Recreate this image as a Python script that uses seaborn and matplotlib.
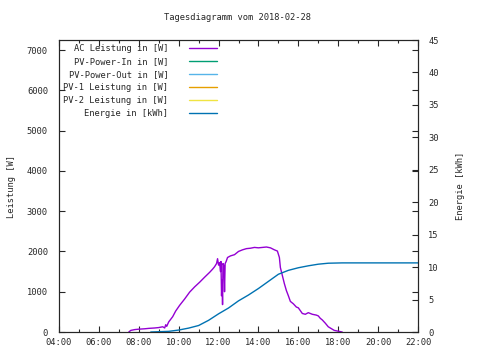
import matplotlib
matplotlib.use("Agg")
import matplotlib.pyplot as plt
import seaborn as sns
import pandas as pd
from matplotlib.ticker import MultipleLocator, FuncFormatter

# ---- data ----
ac_time = [7.5, 7.6, 7.8, 8.0, 8.3, 8.5, 8.8, 9.0, 9.2, 9.3, 9.35, 9.4, 9.5, 9.7,
           9.85, 10.05, 10.3, 10.55, 10.8, 11.05, 11.3, 11.55, 11.7, 11.8, 11.9,
           11.95, 12.0, 12.05, 12.1, 12.12, 12.15, 12.18, 12.2, 12.22, 12.27, 12.3,
           12.33, 12.38, 12.45, 12.6, 12.8, 13.0, 13.2, 13.4, 13.6, 13.8, 14.0,
           14.2, 14.4, 14.6, 14.8, 14.95, 15.05, 15.1, 15.2, 15.3, 15.4, 15.5,
           15.6, 15.75, 15.9, 16.0, 16.2, 16.35, 16.5, 16.7, 16.9, 17.0, 17.1,
           17.2, 17.35, 17.5, 17.6, 17.8, 17.9, 18.1, 18.2]
ac_power = [0, 40, 60, 70, 80, 90, 100, 110, 130, 100, 180, 140, 250, 380,
            520, 663, 820, 990, 1120, 1235, 1360, 1480, 1560, 1620, 1700,
            1820, 1660, 1720, 1500, 1750, 900, 1300, 680, 1700, 1650, 1000,
            1700, 1750, 1850, 1890, 1920, 2000, 2040, 2070, 2080, 2100, 2090,
            2100, 2110, 2090, 2040, 2010, 1850, 1600, 1400, 1200, 1030, 900,
            760, 700, 620, 600, 460, 440, 480, 440, 420, 400, 340,
            300, 220, 130, 100, 40, 30, 10, 0]

en_time = [8.6, 9.5, 10.0, 10.5, 11.0, 11.5, 12.0, 12.5, 13.0, 13.5, 14.0, 14.5,
           15.0, 15.5, 16.0, 16.5, 17.0, 17.5, 18.2, 22.0]
energy = [0, 0.1, 0.3, 0.6, 1.0, 1.8, 2.8, 3.7, 4.8, 5.7, 6.7, 7.8,
          8.9, 9.5, 9.9, 10.2, 10.45, 10.6, 10.65, 10.65]

labels = ["AC Leistung in [W]", "PV-Power-In in [W]", "PV-Power-Out in [W]",
          "PV-1 Leistung in [W]", "PV-2 Leistung in [W]", "Energie in [kWh]"]
colors = ["#9400D3", "#009E73", "#56B4E9", "#E69F00", "#F0E442", "#0072B2"]

title = "Tagesdiagramm vom 2018-02-28"

# ---- plot ----
sns.set_style("ticks")
plt.rcParams["font.family"] = ["DejaVu Sans Mono"]
plt.rcParams["font.size"] = 6.3

fig = plt.figure(figsize=(4.8, 3.6), dpi=100)
ax = fig.add_axes([59/480, 1-332/360, (418-59)/480, (332-40)/360])
ax2 = ax.twinx()

df_ac = pd.DataFrame({"t": ac_time, "p": ac_power})
df_en = pd.DataFrame({"t": en_time, "e": energy})

sns.lineplot(data=df_ac, x="t", y="p", ax=ax, color=colors[0], lw=1.0, label=labels[0], legend=False)
for lab, c in zip(labels[1:5], colors[1:5]):
    ax.plot([], [], color=c, lw=1.0, label=lab)
sns.lineplot(data=df_en, x="t", y="e", ax=ax2, color=colors[5], lw=1.0, legend=False)
ax.plot([], [], color=colors[5], lw=1.0, label=labels[5])

ax.set_xlim(4, 22)
ax.set_ylim(0, 7250)
ax2.set_ylim(0, 45)

ax.xaxis.set_major_locator(MultipleLocator(2))
ax.xaxis.set_minor_locator(MultipleLocator(1))
ax.xaxis.set_major_formatter(FuncFormatter(lambda v, p: "%02d:00" % int(round(v))))
ax.yaxis.set_major_locator(MultipleLocator(1000))
ax2.yaxis.set_major_locator(MultipleLocator(5))

ax.tick_params(axis="both", which="both", direction="in", top=True, right=True,
               labelsize=6.3)
ax.tick_params(axis="x", pad=4)
ax.tick_params(axis="y", pad=8)
ax.tick_params(which="major", length=4, width=0.8)
ax.tick_params(which="minor", length=2.5, width=0.8)
ax2.tick_params(direction="in", length=4, width=0.8, labelsize=6.3, pad=7.5)

for a in (ax, ax2):
    for s in a.spines.values():
        s.set_linewidth(0.8)
        s.set_visible(True)

ax.set_xlabel("")
ax.set_ylabel("Leistung [W]", labelpad=8)
ax2.set_ylabel("Energie [kWh]", labelpad=12)

fig.text(238/480, 1-18/360, title, ha="center", va="center", fontsize=6.3)

leg = ax.legend(loc="upper left", frameon=False, markerfirst=False,
                handlelength=3.2, handletextpad=2.4, labelspacing=0.45,
                bbox_to_anchor=(0.0, 1.0), borderaxespad=0.1, fontsize=6.3)

fig.savefig("out.png", dpi=100)
